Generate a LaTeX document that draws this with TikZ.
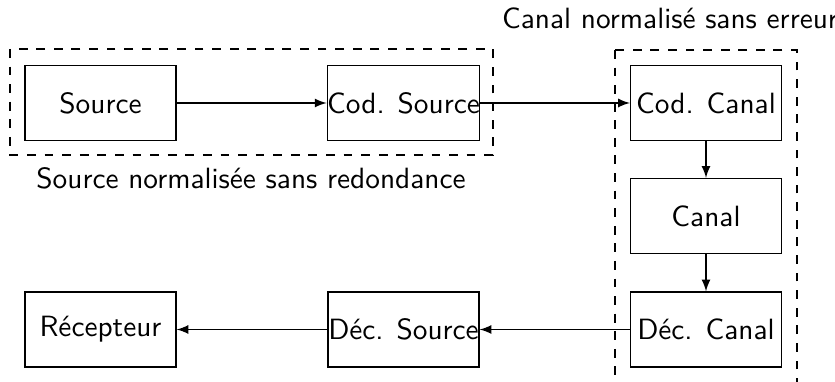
\documentclass[tikz,border=0pt]{standalone}
\usepackage{fontspec}
\begin{document}
\begin{tikzpicture}[x=0.012cm, y=-0.012cm, font=\sffamily,
        bloc/.style={draw, minimum width=1.81cm, minimum height=0.9cm, inner sep=0pt},
        zone/.style={draw, dashed},
        fleche/.style={-latex}]
        \useasboundingbox (0,0) rectangle (835,382);
        % zones en pointilles
        \draw[zone] (10,49) rectangle (493,155);
        \draw[zone] (615,50) rectangle (797,400);
        \node (lblsrc) at (251,178) {Source normalisée sans redondance};
        \node (lblcan) at (670,18) {Canal normalisé sans erreur};
        % blocs
        \node[bloc] (src) at (100.5,103) {Source};
        \node[bloc] (codsrc) at (403.5,103) {Cod. Source};
        \node[bloc] (codcan) at (706,103) {Cod. Canal};
        \node[bloc] (canal) at (706,216) {Canal};
        \node[bloc] (deccan) at (706,329.5) {Déc. Canal};
        \node[bloc] (decsrc) at (403.5,329.5) {Déc. Source};
        \node[bloc] (recep) at (100.5,329.5) {Récepteur};
        % liaisons
        \draw[fleche] (src) -- (codsrc);
        \draw[fleche] (codsrc) -- (codcan);
        \draw[fleche] (codcan) -- (canal);
        \draw[fleche] (canal) -- (deccan);
        \draw[fleche] (deccan) -- (decsrc);
        \draw[fleche] (decsrc) -- (recep);
    \end{tikzpicture}
\end{document}
